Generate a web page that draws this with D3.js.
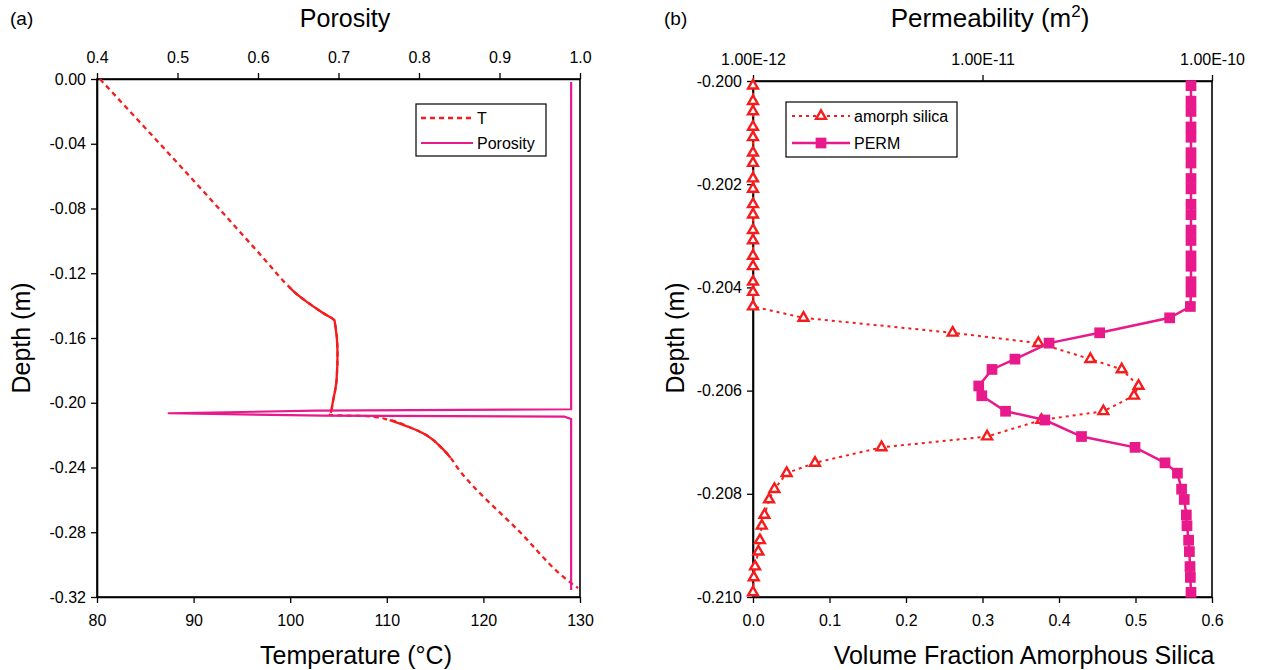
<!DOCTYPE html>
<html><head><meta charset="utf-8">
<script src="https://cdn.jsdelivr.net/npm/d3@7"></script>
<style>
body{margin:0;background:#fff}
text{font-family:"Liberation Sans",Arial,Helvetica,sans-serif;fill:#000}
</style>
</head><body>
<svg id="c" width="1263" height="670"></svg>
<script>
// ---------- Panel (a) data ----------
const tDepth = [0, -0.118, -0.1255, -0.1285, -0.132, -0.138, -0.1446, -0.1495, -0.169, -0.186, -0.200, -0.2063,
                -0.2076, -0.2082, -0.2107, -0.215, -0.2187, -0.228, -0.234, -0.240, -0.280, -0.311, -0.3145];
const tTemp  = [80.3, 98.3, 99.4, 99.9, 100.5, 101.8, 103.4, 104.6, 104.9, 104.8, 104.4, 104.2,
                104.1, 107.9, 110.3, 112.3, 113.7, 115.7, 116.6, 117.3, 123.8, 129.0, 129.8];
const porDepth = [-0.0019, -0.2040, -0.2049, -0.2065, -0.2080, -0.2086, -0.2100, -0.3157];
const porValue = [0.989, 0.989, 0.672, 0.489, 0.681, 0.981, 0.989, 0.989];
const tempTicks = [80, 90, 100, 110, 120, 130];
const porTicks = [0.4, 0.5, 0.6, 0.7, 0.8, 0.9, 1.0];
const depthTicksA = [0, -0.04, -0.08, -0.12, -0.16, -0.20, -0.24, -0.28, -0.32];

// ---------- Panel (b) data ----------
const colDepth = [-0.20009, -0.20039, -0.20059, -0.20089, -0.20109, -0.20139, -0.20159, -0.20189, -0.20209,
                  -0.20239, -0.20259, -0.20289, -0.20309, -0.20339, -0.20359, -0.20389, -0.20409,
                  -0.20437, -0.20459, -0.20488, -0.20508, -0.20539, -0.20559, -0.20591, -0.20610,
                  -0.20640, -0.20657, -0.20689, -0.20710, -0.20740, -0.20760, -0.20791, -0.20811,
                  -0.20841, -0.20862, -0.20890, -0.20912, -0.20941, -0.20962, -0.20991];
const silicaFrac = [0, 0, 0, 0, 0, 0, 0, 0, 0,
                    0, 0, 0, 0, 0, 0, 0, 0,
                    0, 0.066, 0.261, 0.373, 0.441, 0.482, 0.504, 0.498,
                    0.458, 0.377, 0.306, 0.168, 0.081, 0.044, 0.028, 0.021,
                    0.015, 0.0115, 0.009, 0.007, 0.0027, 0.001, 0];
const permValue = [8.1e-11, 8.1e-11, 8.1e-11, 8.1e-11, 8.1e-11, 8.1e-11, 8.1e-11, 8.1e-11, 8.1e-11,
                   8.1e-11, 8.1e-11, 8.1e-11, 8.1e-11, 8.1e-11, 8.1e-11, 8.1e-11, 8.1e-11,
                   8.05e-11, 6.54e-11, 3.24e-11, 1.95e-11, 1.385e-11, 1.10e-11, 9.63e-12, 9.93e-12,
                   1.26e-11, 1.87e-11, 2.70e-11, 4.62e-11, 6.24e-11, 7.07e-11, 7.37e-11, 7.57e-11,
                   7.73e-11, 7.78e-11, 7.91e-11, 7.97e-11, 8.02e-11, 8.05e-11, 8.10e-11];
const silicaTicks = [0, 0.1, 0.2, 0.3, 0.4, 0.5, 0.6];
const permTicks = [1e-12, 1e-11, 1e-10];
const depthTicksB = [-0.200, -0.202, -0.204, -0.206, -0.208, -0.210];

// ---------- styles ----------
const RED = "#f41c1c", MAG = "#e8198a";
const svg = d3.select("#c");
const FS = 16;

// ---------- Panel (a) ----------
const A = {l: 97, r: 580, t: 79, b: 597};
const xT = d3.scaleLinear().domain([80, 130]).range([A.l, A.r]);
const xP = d3.scaleLinear().domain([0.4, 1.0]).range([A.l, A.r]);
const yA = d3.scaleLinear().domain([0, -0.32]).range([A.t, A.b]);

function styleAxis(g) {
  g.selectAll("path.domain").attr("stroke", "#000").attr("stroke-width", 1.6);
  g.selectAll(".tick line").attr("stroke", "#000").attr("stroke-width", 1.3);
  g.selectAll(".tick text").attr("font-size", FS).attr("font-family", '"Liberation Sans",Arial,sans-serif').attr("fill", "#000");
}

const gA = svg.append("g");
gA.append("rect").attr("x", A.l).attr("y", A.t).attr("width", A.r - A.l).attr("height", A.b - A.t)
  .attr("fill", "none").attr("stroke", "#000").attr("stroke-width", 1.6);
gA.append("g").attr("transform", `translate(0,${A.b})`)
  .call(d3.axisBottom(xT).tickValues(tempTicks).tickFormat(d => String(d)).tickSize(6).tickSizeOuter(0).tickPadding(12))
  .call(styleAxis);
gA.append("g").attr("transform", `translate(0,${A.t})`)
  .call(d3.axisTop(xP).tickValues(porTicks).tickFormat(d => d.toFixed(1)).tickSize(6).tickSizeOuter(0).tickPadding(10))
  .call(styleAxis);
gA.append("g").attr("transform", `translate(${A.l},0)`)
  .call(d3.axisLeft(yA).tickValues(depthTicksA).tickFormat(d => (d === 0 ? "0.00" : d.toFixed(2))).tickSize(6).tickSizeOuter(0).tickPadding(5))
  .call(styleAxis);

// T curve: dashed overall, solid where the original points are dense
const tPts = tDepth.map((d, i) => [tTemp[i], d]);
const lineA = d3.line().x(p => xT(p[0])).y(p => yA(p[1]));
const solidRanges = [[-0.126, -0.2063], [-0.2107, -0.234]];
gA.append("path").datum(tPts).attr("d", lineA.curve(d3.curveMonotoneY)).attr("fill", "none")
  .attr("stroke", RED).attr("stroke-width", 2.3).attr("stroke-dasharray", "5,4");
solidRanges.forEach(([a, b]) => {
  const seg = tPts.filter(p => p[1] <= a + 1e-9 && p[1] >= b - 1e-9);
  gA.append("path").datum(seg).attr("d", d3.line().curve(d3.curveMonotoneY).x(p => xT(p[0])).y(p => yA(p[1])))
    .attr("fill", "none").attr("stroke", RED).attr("stroke-width", 2.3);
});
// Porosity
const pPts = porDepth.map((d, i) => [porValue[i], d]);
gA.append("path").datum(pPts).attr("d", d3.line().x(p => xP(p[0])).y(p => yA(p[1])))
  .attr("fill", "none").attr("stroke", MAG).attr("stroke-width", 2.2).attr("stroke-linejoin", "round");

// legend (a)
const LA = {x: 416, y: 104, w: 130, h: 52};
gA.append("rect").attr("x", LA.x).attr("y", LA.y).attr("width", LA.w).attr("height", LA.h)
  .attr("fill", "#fff").attr("stroke", "#000").attr("stroke-width", 1.2);
gA.append("line").attr("x1", LA.x + 5).attr("x2", LA.x + 57).attr("y1", LA.y + 14).attr("y2", LA.y + 14)
  .attr("stroke", RED).attr("stroke-width", 2.3).attr("stroke-dasharray", "5,4");
gA.append("text").attr("x", LA.x + 61).attr("y", LA.y + 20).attr("font-size", FS).text("T");
gA.append("line").attr("x1", LA.x + 5).attr("x2", LA.x + 57).attr("y1", LA.y + 39).attr("y2", LA.y + 39)
  .attr("stroke", MAG).attr("stroke-width", 2.2);
gA.append("text").attr("x", LA.x + 61).attr("y", LA.y + 45).attr("font-size", FS).text("Porosity");

// titles (a)
svg.append("text").attr("x", 10).attr("y", 25).attr("font-size", 19).text("(a)");
svg.append("text").attr("x", 345).attr("y", 27).attr("font-size", 25).attr("text-anchor", "middle").text("Porosity");
svg.append("text").attr("x", 356).attr("y", 664).attr("font-size", 25).attr("text-anchor", "middle").text("Temperature (°C)");
svg.append("text").attr("transform", "translate(30,338) rotate(-90)").attr("font-size", 25).attr("text-anchor", "middle").text("Depth (m)");

// ---------- Panel (b) ----------
const B = {l: 753, r: 1212, t: 81, b: 597};
const xS = d3.scaleLinear().domain([0, 0.6]).range([B.l, B.r]);
const xK = d3.scaleLog().domain([1e-12, 1e-10]).range([B.l, B.r]);
const yB = d3.scaleLinear().domain([-0.200, -0.210]).range([B.t, B.b]);

const gB = svg.append("g");
gB.append("rect").attr("x", B.l).attr("y", B.t).attr("width", B.r - B.l).attr("height", B.b - B.t)
  .attr("fill", "none").attr("stroke", "#000").attr("stroke-width", 1.6);
gB.append("g").attr("transform", `translate(0,${B.b})`)
  .call(d3.axisBottom(xS).tickValues(silicaTicks).tickFormat(d => d.toFixed(1)).tickSize(6).tickSizeOuter(0).tickPadding(12))
  .call(styleAxis);
gB.append("g").attr("transform", `translate(0,${B.t})`)
  .call(d3.axisTop(xK).tickValues(permTicks).tickFormat(d => "1.00E" + Math.round(Math.log10(d))).tickSize(6).tickSizeOuter(0).tickPadding(10))
  .call(styleAxis);
gB.append("g").attr("transform", `translate(${B.l},0)`)
  .call(d3.axisLeft(yB).tickValues(depthTicksB).tickFormat(d => d.toFixed(3)).tickSize(6).tickSizeOuter(0).tickPadding(5))
  .call(styleAxis);

const sPts = colDepth.map((d, i) => [silicaFrac[i], d]);
const kPts = colDepth.map((d, i) => [permValue[i], d]);
const triSym = d3.symbol().type(d3.symbolTriangle).size(42);
const sqSym = d3.symbol().type(d3.symbolSquare).size(115);

// silica
gB.append("path").datum(sPts).attr("d", d3.line().x(p => xS(p[0])).y(p => yB(p[1])))
  .attr("fill", "none").attr("stroke", RED).attr("stroke-width", 2).attr("stroke-dasharray", "3,4");
gB.selectAll("path.tri").data(sPts).enter().append("path").attr("class", "tri")
  .attr("d", triSym).attr("transform", p => `translate(${xS(p[0])},${yB(p[1])})`)
  .attr("fill", "#fff").attr("stroke", RED).attr("stroke-width", 2.4);
// perm
gB.append("path").datum(kPts).attr("d", d3.line().x(p => xK(p[0])).y(p => yB(p[1])))
  .attr("fill", "none").attr("stroke", MAG).attr("stroke-width", 2.5);
gB.selectAll("path.sq").data(kPts).enter().append("path").attr("class", "sq")
  .attr("d", sqSym).attr("transform", p => `translate(${xK(p[0])},${yB(p[1])})`)
  .attr("fill", MAG);

// legend (b)
const LB = {x: 786, y: 102, w: 171, h: 55};
gB.append("rect").attr("x", LB.x).attr("y", LB.y).attr("width", LB.w).attr("height", LB.h)
  .attr("fill", "#fff").attr("stroke", "#000").attr("stroke-width", 1.2);
gB.append("line").attr("x1", LB.x + 6).attr("x2", LB.x + 64).attr("y1", LB.y + 14).attr("y2", LB.y + 14)
  .attr("stroke", RED).attr("stroke-width", 2).attr("stroke-dasharray", "3,4");
gB.append("path").attr("d", triSym).attr("transform", `translate(${LB.x + 35},${LB.y + 14})`)
  .attr("fill", "#fff").attr("stroke", RED).attr("stroke-width", 2.4);
gB.append("text").attr("x", LB.x + 68).attr("y", LB.y + 20).attr("font-size", FS).text("amorph silica");
gB.append("line").attr("x1", LB.x + 6).attr("x2", LB.x + 64).attr("y1", LB.y + 41).attr("y2", LB.y + 41)
  .attr("stroke", MAG).attr("stroke-width", 2.5);
gB.append("path").attr("d", sqSym).attr("transform", `translate(${LB.x + 35},${LB.y + 41})`).attr("fill", MAG);
gB.append("text").attr("x", LB.x + 68).attr("y", LB.y + 47).attr("font-size", FS).text("PERM");

// titles (b)
svg.append("text").attr("x", 664).attr("y", 25).attr("font-size", 19).text("(b)");
const tb = svg.append("text").attr("x", 990).attr("y", 27).attr("font-size", 26).attr("text-anchor", "middle");
tb.append("tspan").text("Permeability (m");
tb.append("tspan").attr("font-size", 17).attr("dy", -10).text("2");
tb.append("tspan").attr("dy", 10).text(")");
svg.append("text").attr("x", 1024).attr("y", 664).attr("font-size", 25).attr("text-anchor", "middle").text("Volume Fraction Amorphous Silica");
svg.append("text").attr("transform", "translate(684,338) rotate(-90)").attr("font-size", 25).attr("text-anchor", "middle").text("Depth (m)");
</script>
</body></html>
